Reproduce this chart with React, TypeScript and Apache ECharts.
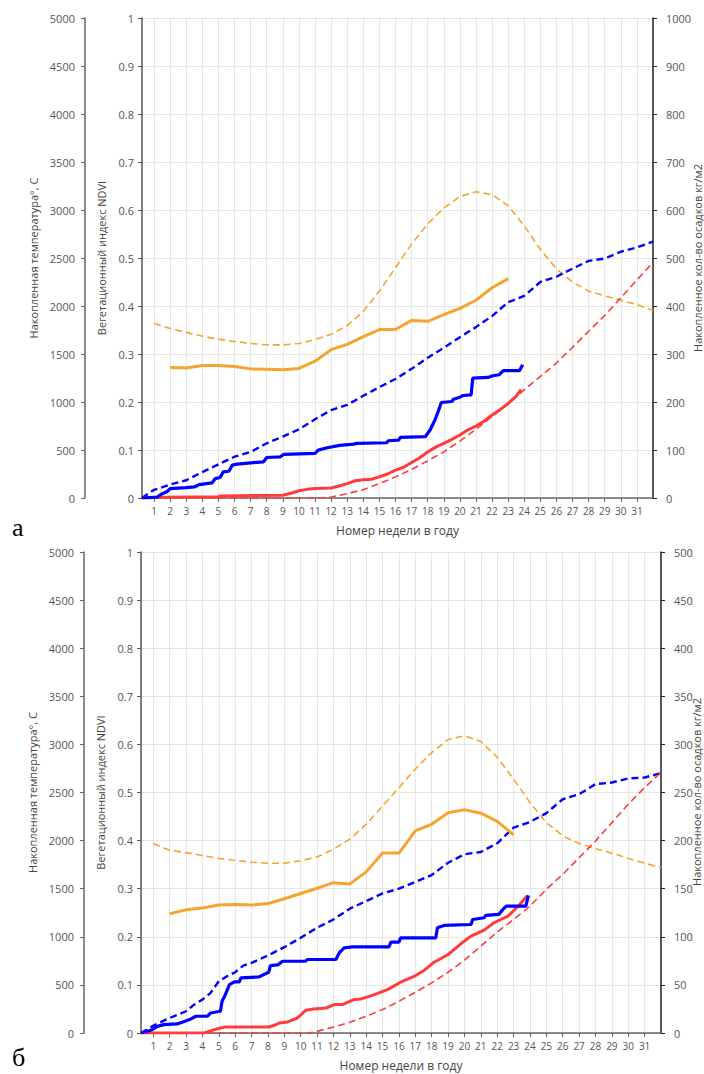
import React, { useEffect, useRef } from "react";
import * as echarts from "echarts";

const weekTicks = [1, 2, 3, 4, 5, 6, 7, 8, 9, 10, 11, 12, 13, 14, 15, 16, 17, 18, 19, 20, 21, 22, 23, 24, 25, 26, 27, 28, 29, 30, 31];

// ---------- Chart а ----------
const ndviA: [number, number][] = [[2,0.272],[3,0.271],[4,0.276],[5,0.276],[6,0.274],[7,0.269],[8,0.268],[9,0.267],[10,0.270],[11,0.285],[12,0.309],[13,0.320],[14,0.336],[15,0.351],[16,0.351],[17,0.370],[18,0.368],[19,0.382],[20,0.395],[21,0.412],[22,0.438],[23,0.457]];
const ndviAvgA: [number, number][] = [[1,0.364],[2,0.353],[3,0.345],[4,0.337],[5,0.331],[6,0.326],[7,0.322],[8,0.319],[9,0.319],[10,0.322],[11,0.330],[12,0.341],[13,0.359],[14,0.389],[15,0.431],[16,0.480],[17,0.529],[18,0.571],[19,0.604],[20,0.628],[21,0.638],[22,0.632],[23,0.609],[24,0.567],[25,0.518],[26,0.477],[27,0.450],[28,0.431],[29,0.421],[30,0.412],[31,0.403],[32,0.391]];
const precipAvgA: [number, number][] = [[0.25,0],[1,17],[2,28],[3,37],[4,54],[5,70],[6,86],[7,96],[8,114],[9,128],[10,143],[11,164],[12,183],[13,194],[14,213],[15,231],[16,248],[17,269],[18,292],[19,313],[20,335],[21,356],[22,379],[23,408],[24,421],[25,450],[26,461],[27,478],[28,494],[29,499],[30,513],[31,522],[32,534]];
const precipA: [number, number][] = [[0.25,0],[1.2,2],[1.5,9],[1.8,13],[2.0,19.5],[3.0,21.6],[3.5,23],[3.8,28],[4.6,31.4],[4.8,40.5],[5.1,42.6],[5.3,54.4],[5.65,55.8],[5.85,68.4],[6.15,70.5],[7.8,75.4],[8.0,84.4],[8.85,85.8],[9.05,90.7],[11.0,92.8],[11.2,99.8],[11.75,104.7],[12.55,109.6],[13.4,112.3],[13.6,113.7],[15.45,115.1],[15.55,119.3],[16.2,120.7],[16.3,126.3],[17.85,127.7],[18.15,141.7],[18.45,162.6],[18.65,180],[18.85,199],[19.5,201],[19.6,205.8],[20.0,210],[20.2,213.5],[20.7,215],[20.8,249.8],[21.75,251.2],[22.05,254.7],[22.45,256.8],[22.7,265.2],[23.7,265.2],[23.9,277.7]];
const tempA: [number, number][] = [[0.25,0],[1.5,8],[5,12],[5.1,22],[9,28],[9.5,50],[10,75],[10.5,90],[11,100],[12,105],[12.5,125],[13,150],[13.5,180],[14,190],[14.5,195],[15,220],[15.5,250],[16,290],[16.5,320],[17,370],[17.5,420],[18,480],[18.5,530],[19,570],[19.5,610],[20,656],[20.5,710],[21,750],[21.5,800],[22,865],[22.5,920],[23,985],[23.5,1060],[23.8,1130]];
const tempAvgA: [number, number][] = [[0.25,0],[11.3,0],[12,10],[13,45],[14,87],[15,150],[16,220],[17,297],[18,387],[19,481],[20,593],[21,715],[22,848],[23,980],[24,1127],[25,1266],[26,1406],[27,1570],[28,1737],[29,1901],[30,2086],[31,2271],[32,2453]];

// ---------- Chart б ----------
const ndviB: [number, number][] = [[2,0.248],[3,0.256],[4,0.260],[5,0.266],[6,0.267],[7,0.266],[8,0.269],[9,0.279],[10,0.290],[11,0.301],[12,0.3125],[13,0.310],[14,0.335],[15,0.374],[16,0.374],[17,0.420],[18,0.434],[19,0.458],[20,0.464],[21,0.457],[22,0.440],[23,0.412]];
const ndviAvgB: [number, number][] = [[1,0.394],[2,0.380],[3,0.375],[4,0.369],[5,0.363],[6,0.359],[7,0.355],[8,0.353],[9,0.353],[10,0.358],[11,0.366],[12,0.382],[13,0.403],[14,0.434],[15,0.472],[16,0.510],[17,0.549],[18,0.583],[19,0.610],[20,0.618],[21,0.606],[22,0.573],[23,0.528],[24,0.479],[25,0.4375],[26,0.410],[27,0.394],[28,0.383],[29,0.374],[30,0.363],[31,0.353],[32,0.344]];
const precipAvgB: [number, number][] = [[0.25,0],[1,7.6],[2,15.6],[3,22.6],[3.5,29.5],[4,34.7],[4.5,41.7],[5,53.8],[5.5,59],[6,63.2],[6.5,70.1],[7,72.9],[8,80.6],[9,89.2],[10,99],[11,109.4],[12,118],[13,129.2],[14,137.1],[15,145.1],[16,150],[17,157],[18,164.2],[19,177],[20,185.8],[21,188.2],[22,197.2],[23,213.5],[24,219.4],[25,228.5],[26,243],[27,248.2],[28,258.7],[29,260.4],[30,264.6],[31,265.6],[32,270.1]];
const precipB: [number, number][] = [[0.25,0],[0.85,2.8],[1.25,6.9],[1.65,8.7],[2.45,9.4],[2.85,11.8],[3.3,14.6],[3.6,17.4],[4.3,17.4],[4.5,20.8],[5.1,22.6],[5.2,33],[5.4,39.9],[5.65,50.3],[5.95,53.1],[6.25,53.1],[6.35,57.3],[7.45,58.3],[8.05,63.2],[8.15,70.1],[8.6,70.8],[8.9,74.6],[10.3,74.6],[10.4,76.4],[12.15,76.4],[12.35,83.3],[12.65,88.5],[13.15,89.6],[15.4,89.6],[15.5,94.4],[16.0,94.4],[16.1,98.9],[18.25,98.9],[18.35,109.4],[18.75,111.8],[20.4,112.8],[20.5,118],[21.2,119.8],[21.3,122.2],[22.1,123.3],[22.35,128.5],[22.55,131.9],[23.75,131.9],[23.9,143]];
const tempB: [number, number][] = [[0.25,0],[4.1,0],[4.6,28],[5.1,52],[5.4,62],[8.05,62],[8.4,80],[8.7,104],[9.2,115],[9.8,156],[10.3,236],[10.8,250],[11.55,260],[12.05,295],[12.55,295],[13.25,347],[13.7,354],[14.5,399],[15.3,451],[16.1,528],[16.95,590],[17.55,653],[18.15,736],[19,816],[19.8,930],[20.4,1007],[21.2,1069],[21.8,1146],[22.65,1215],[23.25,1312],[23.85,1430]];
const tempAvgB: [number, number][] = [[0.25,0],[10.5,0],[11,17],[12,62],[13,111],[14,174],[15,243],[16,330],[17,424],[18,521],[19,632],[20,757],[21,903],[22,1049],[23,1180],[24,1319],[25,1493],[26,1649],[27,1823],[28,1996],[29,2187],[30,2378],[31,2552],[32,2708]];

const precipMaxA = 1000;
const precipMaxB = 500;
const precipName = "Накопленное кол-во осадков кг/м2";

const BLUE = "#0000FF";
const RED = "#FF3B3B";
const ORANGE = "#F5A52E";
const FONT = "'Open Sans', 'Noto Sans', sans-serif";
const LABEL_COLOR = "#555";

const plain = (v: number) => String(Math.round(v * 1000) / 1000);

function buildOption() {
  const grids = [
    { left: 142, top: 18, width: 511, height: 480, containLabel: false, outerBoundsMode: "none" },
    { left: 141, top: 552, width: 520, height: 481, containLabel: false, outerBoundsMode: "none" },
  ];
  const xAxis = grids.map((_, i) => ({
    type: "value",
    gridIndex: i,
    min: 0.25,
    max: 32,
    name: "Номер недели в году",
    nameLocation: "middle",
    nameGap: 26,
    nameTextStyle: { fontFamily: FONT, fontSize: 12, color: "#444" },
    axisLine: { show: true, onZero: false, lineStyle: { color: "#666", width: 1.5 } },
    axisTick: { show: true, length: 4, customValues: weekTicks, lineStyle: { color: "#666" } },
    axisLabel: { customValues: weekTicks, fontFamily: FONT, fontSize: 10, color: LABEL_COLOR, margin: 8 },
    splitLine: { show: true, lineStyle: { color: "#e6e6e6", width: 1 } },
  }));
  const yAxis: any[] = [];
  [precipMaxA, precipMaxB].forEach((pmax, i) => {
    yAxis.push({
      type: "value",
      gridIndex: i,
      position: "left",
      offset: 0,
      min: 0,
      max: 1,
      interval: 0.1,
      name: "Вегетационный индекс NDVI",
      nameLocation: "middle",
      nameRotate: 90,
      nameGap: 35,
      nameTextStyle: { fontFamily: FONT, fontSize: 11, color: "#444" },
      axisLine: { show: true, lineStyle: { color: "#555", width: 1.5 } },
      axisTick: { show: true, length: 4, lineStyle: { color: "#555" } },
      axisLabel: { fontFamily: FONT, fontSize: 11, color: LABEL_COLOR, margin: 8, formatter: plain },
      splitLine: { show: true, lineStyle: { color: "#e6e6e6", width: 1 } },
    });
    yAxis.push({
      type: "value",
      gridIndex: i,
      position: "left",
      offset: 57,
      min: 0,
      max: 5000,
      interval: 500,
      name: "Накопленная температура°, С",
      nameLocation: "middle",
      nameRotate: 90,
      nameGap: 42,
      nameTextStyle: { fontFamily: FONT, fontSize: 11, color: "#444" },
      axisLine: { show: true, lineStyle: { color: "#666", width: 1.5 } },
      axisTick: { show: true, length: 4, lineStyle: { color: "#666" } },
      axisLabel: { fontFamily: FONT, fontSize: 11, color: LABEL_COLOR, margin: 10, formatter: plain },
      splitLine: { show: false },
    });
    yAxis.push({
      type: "value",
      gridIndex: i,
      position: "right",
      offset: 0,
      min: 0,
      max: pmax,
      interval: pmax / 10,
      axisLine: { show: true, lineStyle: { color: "#222", width: 1.5 } },
      axisTick: { show: true, length: 4, lineStyle: { color: "#222" } },
      axisLabel: { fontFamily: FONT, fontSize: 11, color: LABEL_COLOR, margin: 13, formatter: plain },
      splitLine: { show: false },
    });
  });

  const line = (data: [number, number][], g: number, axis: number, color: string, width: number, dashed: boolean, z: number) => ({
    type: "line",
    xAxisIndex: g,
    yAxisIndex: g * 3 + axis,
    data,
    showSymbol: false,
    symbol: "none",
    z,
    lineStyle: { color, width, type: dashed ? [7, 4] : "solid" },
  });

  const series = [
    line(ndviAvgA, 0, 0, ORANGE, 1.6, true, 2),
    line(precipAvgA, 0, 2, BLUE, 2.4, true, 3),
    line(tempAvgA, 0, 1, RED, 1.6, true, 3),
    line(ndviA, 0, 0, ORANGE, 3, false, 4),
    line(tempA, 0, 1, RED, 3, false, 4),
    line(precipA, 0, 2, BLUE, 3.2, false, 5),
    line(ndviAvgB, 1, 0, ORANGE, 1.6, true, 2),
    line(precipAvgB, 1, 2, BLUE, 2.4, true, 3),
    line(tempAvgB, 1, 1, RED, 1.6, true, 3),
    line(ndviB, 1, 0, ORANGE, 3, false, 4),
    line(tempB, 1, 1, RED, 3, false, 4),
    line(precipB, 1, 2, BLUE, 3.2, false, 5),
  ];

  const nameStyle = { text: precipName, fontFamily: FONT, fontSize: 11, fill: "#444", align: "center", verticalAlign: "middle" };

  return {
    animation: false,
    backgroundColor: "#fff",
    grid: grids,
    xAxis,
    yAxis,
    series,
    graphic: [
      { type: "text", x: 697, y: 258, rotation: Math.PI / 2, style: nameStyle },
      { type: "text", x: 696, y: 792, rotation: Math.PI / 2, style: nameStyle },
      { type: "text", left: 12, top: 514, style: { text: "а", font: "26px 'Liberation Serif', serif", fill: "#000" } },
      { type: "text", left: 12, top: 1044, style: { text: "б", font: "26px 'Liberation Serif', serif", fill: "#000" } },
    ],
  };
}

export default function App() {
  const ref = useRef<HTMLDivElement>(null);
  useEffect(() => {
    if (!ref.current) return;
    const chart = echarts.init(ref.current, undefined, { renderer: "svg" });
    chart.setOption(buildOption() as any);
    return () => chart.dispose();
  }, []);
  return <div ref={ref} style={{ position: "absolute", left: 0, top: 0, width: 704, height: 1074 }} />;
}
